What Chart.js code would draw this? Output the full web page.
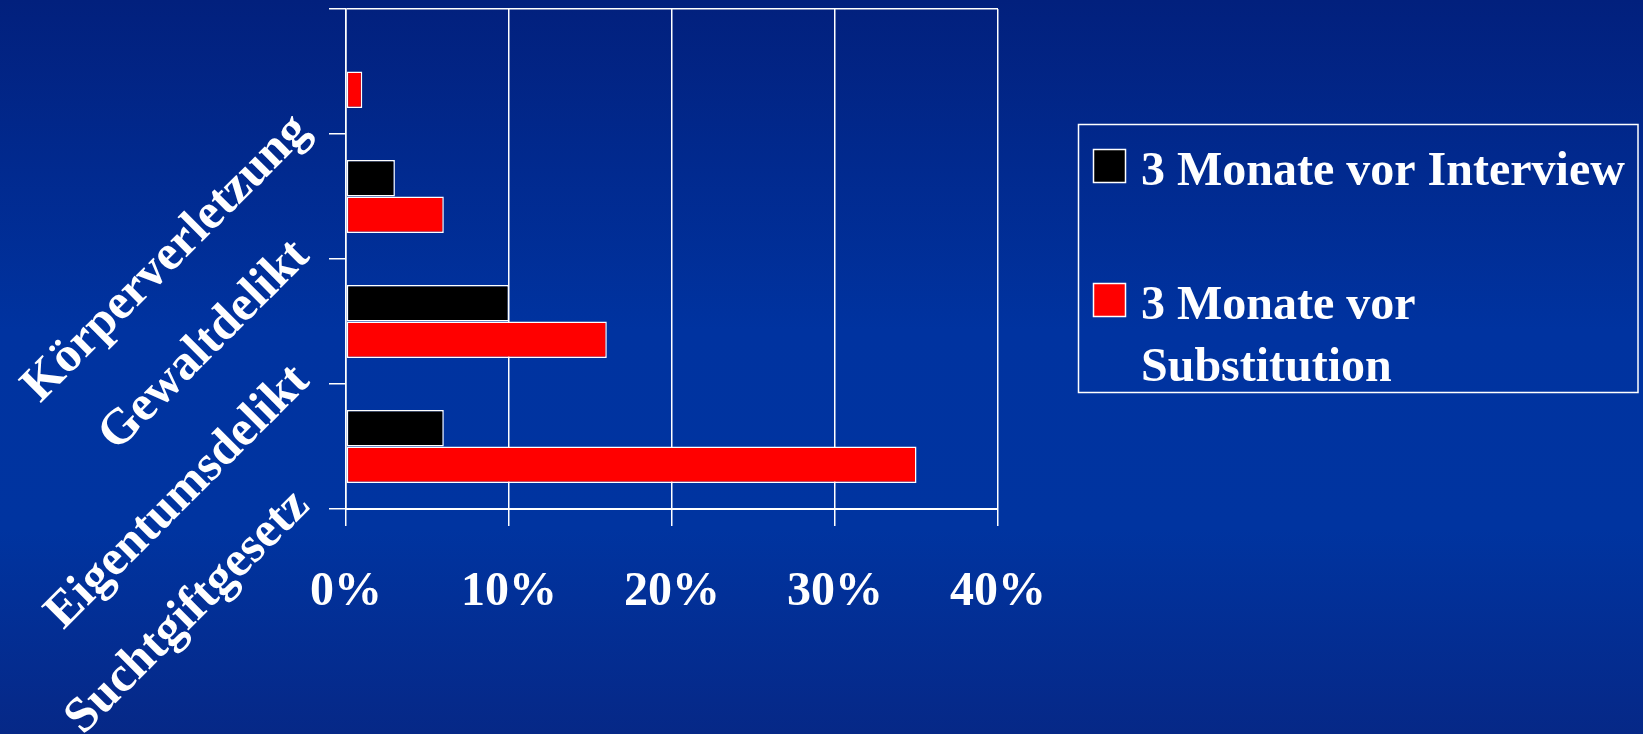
<!DOCTYPE html>
<html>
<head>
<meta charset="utf-8">
<script src="https://cdn.jsdelivr.net/npm/chart.js@4.4.1/dist/chart.umd.min.js"></script>
<style>
  html, body { margin: 0; padding: 0; overflow: hidden; background: #0033a0; }
  #wrap { width: 1643px; height: 734px; }
</style>
</head>
<body>
<div id="wrap"><canvas id="c" width="1643" height="734"></canvas></div>
<script>
// Delikte (top to bottom) and share of respondents per period, in percent
const categories = ['Körperverletzung', 'Gewaltdelikt', 'Eigentumsdelikt', 'Suchtgiftgesetz'];
const seriesNames = [['3 Monate vor Interview'], ['3 Monate vor', 'Substitution']];
const seriesColors = ['#000000', '#ff0000'];
const vorInterview = [0, 3, 10, 6];
const vorSubstitution = [1, 6, 16, 35];
const xTickValues = [0, 10, 20, 30, 40];

const WHITE = '#ffffff';
const SERIF = "'Liberation Serif', 'Times New Roman', serif";

// Slide-style blue gradient behind everything
const backgroundPlugin = {
  id: 'slideBackground',
  beforeDraw(chart) {
    const { ctx, width, height } = chart;
    const g = ctx.createLinearGradient(0, 0, 0, height);
    g.addColorStop(0, '#02207d');
    g.addColorStop(0.45, '#0033a0');
    g.addColorStop(0.72, '#0034a0');
    g.addColorStop(1, '#062887');
    ctx.save();
    ctx.fillStyle = g;
    ctx.fillRect(0, 0, width, height);
    ctx.restore();
  }
};

// Framed legend to the right of the plot, with wrapped series names
const boxedLegend = {
  id: 'boxedLegend',
  afterDraw(chart) {
    const { ctx } = chart;
    const box = { x: 1078.5, y: 124.5, w: 559.5, h: 268 };
    const itemTops = [149.5, 283.5];
    const lineGap = 61.5;
    ctx.save();
    ctx.strokeStyle = WHITE;
    ctx.lineWidth = 1.5;
    ctx.strokeRect(box.x, box.y, box.w, box.h);
    ctx.font = 'bold 48px ' + SERIF;
    ctx.textBaseline = 'alphabetic';
    ctx.textAlign = 'left';
    chart.data.datasets.forEach((ds, i) => {
      const top = itemTops[i];
      ctx.fillStyle = ds.backgroundColor;
      ctx.fillRect(1093.5, top, 32, 33);
      ctx.strokeStyle = WHITE;
      ctx.lineWidth = 1.5;
      ctx.strokeRect(1093.5, top, 32, 33);
      ctx.fillStyle = WHITE;
      seriesNames[i].forEach((line, j) => {
        ctx.fillText(line, 1141, top + 35.5 + j * lineGap);
      });
    });
    ctx.restore();
  }
};

const chart = new Chart(document.getElementById('c'), {
  type: 'bar',
  data: {
    labels: categories,
    datasets: [
      {
        label: seriesNames[0].join(' '),
        data: vorInterview,
        backgroundColor: seriesColors[0],
        borderColor: WHITE,
        borderWidth: 1.5,
        borderSkipped: false
      },
      {
        label: seriesNames[1].join(' '),
        data: vorSubstitution,
        backgroundColor: seriesColors[1],
        borderColor: WHITE,
        borderWidth: 1.5,
        borderSkipped: false
      }
    ]
  },
  options: {
    indexAxis: 'y',
    responsive: false,
    animation: false,
    events: [],
    categoryPercentage: 0.585,
    barPercentage: 1.0,
    layout: { padding: { top: 9, right: 645, bottom: 0, left: 0 } },
    plugins: {
      legend: { display: false },
      tooltip: { enabled: false }
    },
    scales: {
      x: {
        type: 'linear',
        min: xTickValues[0],
        max: xTickValues[xTickValues.length - 1],
        afterBuildTicks(scale) {
          scale.ticks = xTickValues.map(v => ({ value: v }));
        },
        afterFit(scale) {
          scale.height = 225;
          scale.paddingLeft = 0;
          scale.paddingRight = 0;
        },
        grid: {
          color: WHITE,
          lineWidth: 1.5,
          tickLength: 17,
          tickColor: WHITE
        },
        border: { color: WHITE, width: 2 },
        ticks: {
          color: WHITE,
          padding: 38,
          font: { family: SERIF, size: 48, weight: 'bold' },
          callback: v => v + '%'
        }
      },
      y: {
        type: 'category',
        afterFit(scale) {
          scale.width = 346;
          scale.paddingTop = 0;
          scale.paddingBottom = 0;
        },
        grid: {
          offset: true,
          drawOnChartArea: true,
          color: ctx => (ctx.index === 0 ? WHITE : 'rgba(0,0,0,0)'),
          lineWidth: 1.5,
          tickLength: 17,
          tickColor: WHITE
        },
        border: { color: WHITE, width: 1.5 },
        ticks: {
          color: WHITE,
          minRotation: 45,
          maxRotation: 45,
          padding: 27,
          labelOffset: 52,
          font: { family: SERIF, size: 50, weight: 'bold' }
        }
      }
    }
  },
  plugins: [backgroundPlugin, boxedLegend]
});
</script>
</body>
</html>
